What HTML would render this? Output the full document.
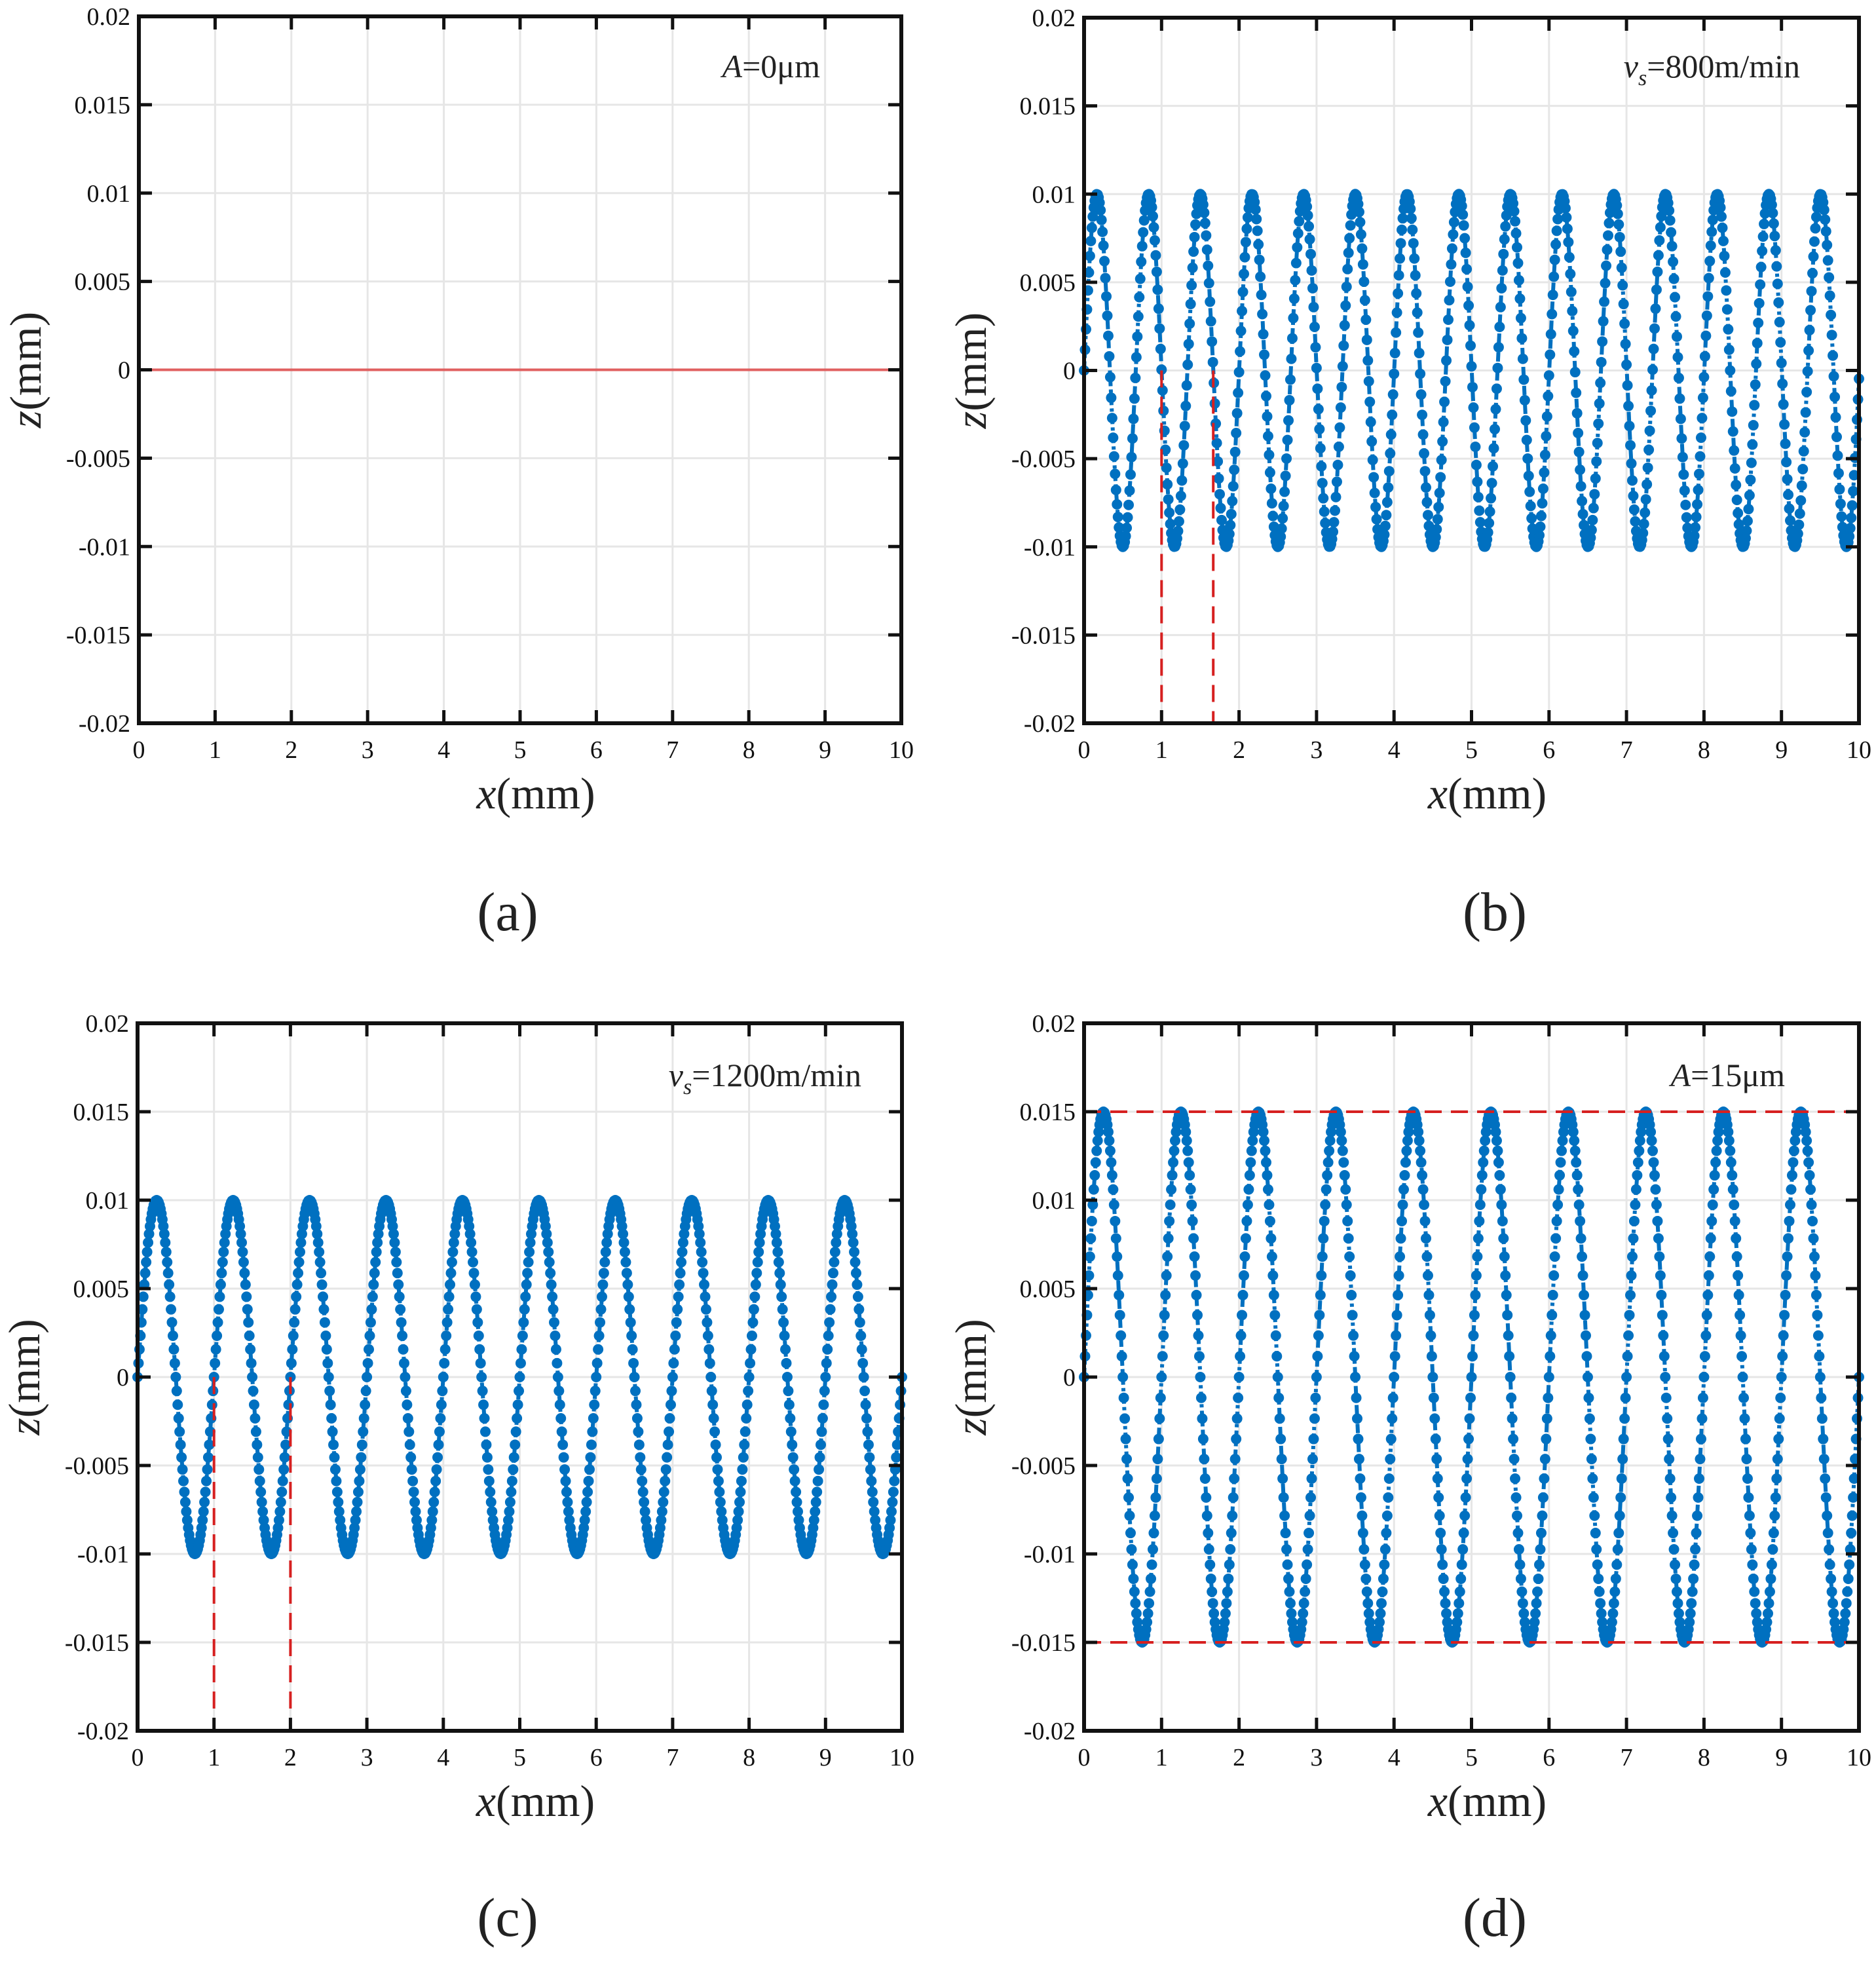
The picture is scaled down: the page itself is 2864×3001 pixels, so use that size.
<!DOCTYPE html>
<html><head><meta charset="utf-8"><style>
html,body{margin:0;padding:0;background:#fff;}
svg{display:block;font-family:"Liberation Serif",serif;}
</style></head><body>
<svg id="fig" width="2864" height="3001" viewBox="0 0 2864 3001"></svg>
<script>
// ---- data ----
const panelIds = ['a','b','c','d'];
const amplitudes = [0, 0.01, 0.01, 0.015];      // mm
const periods = [1, 0.667, 1, 1];                // mm
const xTicks = [0,1,2,3,4,5,6,7,8,9,10];
const yTicks = [0.02,0.015,0.01,0.005,0,-0.005,-0.01,-0.015,-0.02];
const yTickLabels = ['0.02','0.015','0.01','0.005','0','-0.005','-0.01','-0.015','-0.02'];
const vLinesB = [1, 1.667];
const vLinesC = [1, 2];
const hLinesD = [0.015, -0.015];
const sampleStep = 0.0125;

const NS='http://www.w3.org/2000/svg';
const svg=document.getElementById('fig');
function mk(tag,attrs,parent){const e=document.createElementNS(NS,tag);for(const k in attrs)e.setAttribute(k,attrs[k]);(parent||svg).appendChild(e);return e;}

const boxes=[
 {L:212,R:1376,T:25,B:1104,cap:'(a)',capX:775,capY:1420},
 {L:1655,R:2838,T:27,B:1104,cap:'(b)',capX:2282,capY:1420},
 {L:210,R:1377,T:1562,B:2642,cap:'(c)',capX:775,capY:2955},
 {L:1655,R:2838,T:1562,B:2642,cap:'(d)',capX:2282,capY:2955}
];
const notes=[
 {t:'A',rest:'=0μm',x:1252,y:118},
 {t:'v',sub:'s',rest:'=800m/min',x:2748,y:118},
 {t:'v',sub:'s',rest:'=1200m/min',x:1315,y:1658},
 {t:'A',rest:'=15μm',x:2725,y:1658}
];

boxes.forEach((bx,i)=>{
 const g=mk('g',{});
 
 
 const xs=v=>bx.L+(bx.R-bx.L)*v/10;
 const ys=v=>bx.T+(bx.B-bx.T)*(0.02-v)/0.04;
 xTicks.forEach(t=>{const l=mk('line',{x1:xs(t),x2:xs(t),y1:bx.T,y2:bx.B,stroke:'#e6e6e6','stroke-width':3},g);});
 yTicks.forEach(t=>{const l=mk('line',{x1:bx.L,x2:bx.R,y1:ys(t),y2:ys(t),stroke:'#e6e6e6','stroke-width':3},g);});
 const A=amplitudes[i],P=periods[i];
 if(A===0){
  const l=mk('line',{x1:xs(0),x2:xs(10),y1:ys(0),y2:ys(0),stroke:'#e06060','stroke-width':4},g);
  
 } else {
  let pts=[];const dots=mk('g',{fill:'#0070C0'},g);
  
  const n=Math.round(10/sampleStep);
  for(let k=0;k<=n;k++){const x=k*sampleStep;const z=A*Math.sin(2*Math.PI*x/P);pts.push(xs(x).toFixed(1)+','+ys(z).toFixed(1));
   mk('circle',{cx:xs(x),cy:ys(z),r:8},dots);}
  const pl=mk('polyline',{points:pts.join(' '),fill:'none',stroke:'#0070C0','stroke-width':6,'stroke-dasharray':'14 5 5 5'},g);
  
 }
 const vl=i===1?vLinesB:(i===2?vLinesC:[]);
 vl.forEach(v=>{const l=mk('line',{x1:xs(v),x2:xs(v),y1:ys(0),y2:bx.B,stroke:'#d62020','stroke-width':4,'stroke-dasharray':'26 14'},g);});
 if(i===3)hLinesD.forEach(h=>{const l=mk('line',{x1:bx.L,x2:bx.R,y1:ys(h),y2:ys(h),stroke:'#d62020','stroke-width':4,'stroke-dasharray':'26 14'},g);});
 const fr=mk('rect',{x:bx.L,y:bx.T,width:bx.R-bx.L,height:bx.B-bx.T,fill:'none',stroke:'#111','stroke-width':6},g);
 
 const tk=mk('g',{stroke:'#111','stroke-width':5},g);
 
 xTicks.forEach(t=>{mk('line',{x1:xs(t),x2:xs(t),y1:bx.B,y2:bx.B-20},tk);mk('line',{x1:xs(t),x2:xs(t),y1:bx.T,y2:bx.T+20},tk);});
 yTicks.forEach(t=>{mk('line',{x1:bx.L,x2:bx.L+20,y1:ys(t),y2:ys(t)},tk);mk('line',{x1:bx.R,x2:bx.R-20,y1:ys(t),y2:ys(t)},tk);});
 xTicks.forEach(t=>{const e=mk('text',{x:xs(t),y:bx.B+53,'font-size':38,'text-anchor':'middle',fill:'#111'},g);e.textContent=t;});
 yTicks.forEach((t,j)=>{const e=mk('text',{x:bx.L-13,y:ys(t)+13,'font-size':38,'text-anchor':'end',fill:'#111'},g);e.textContent=yTickLabels[j];});
 const xt=mk('text',{x:(bx.L+bx.R)/2+24,y:bx.B+130,'font-size':68,'text-anchor':'middle',fill:'#222'},g);
 xt.innerHTML='<tspan font-style="italic">x</tspan>(mm)';
 
 const cy=(bx.T+bx.B)/2,cx=bx.L-150;
 const yt=mk('text',{x:cx,y:cy,'font-size':68,'text-anchor':'middle',fill:'#222',transform:`rotate(-90 ${cx} ${cy})`},g);
 yt.innerHTML='<tspan font-style="italic">z</tspan>(mm)';
 
 const nt=notes[i];
 const an=mk('text',{x:nt.x,y:nt.y,'font-size':50,'text-anchor':'end',fill:'#222'},g);
 an.innerHTML='<tspan font-style="italic">'+nt.t+'</tspan>'+(nt.sub?'<tspan font-style="italic" font-size="34" dy="12">'+nt.sub+'</tspan><tspan dy="-12">'+nt.rest+'</tspan>':'<tspan>'+nt.rest+'</tspan>');
 
 const cp=mk('text',{x:bx.capX,y:bx.capY,'font-size':84,'text-anchor':'middle',fill:'#222'},g);
 cp.textContent=bx.cap;
 
});
</script>
</body></html>
